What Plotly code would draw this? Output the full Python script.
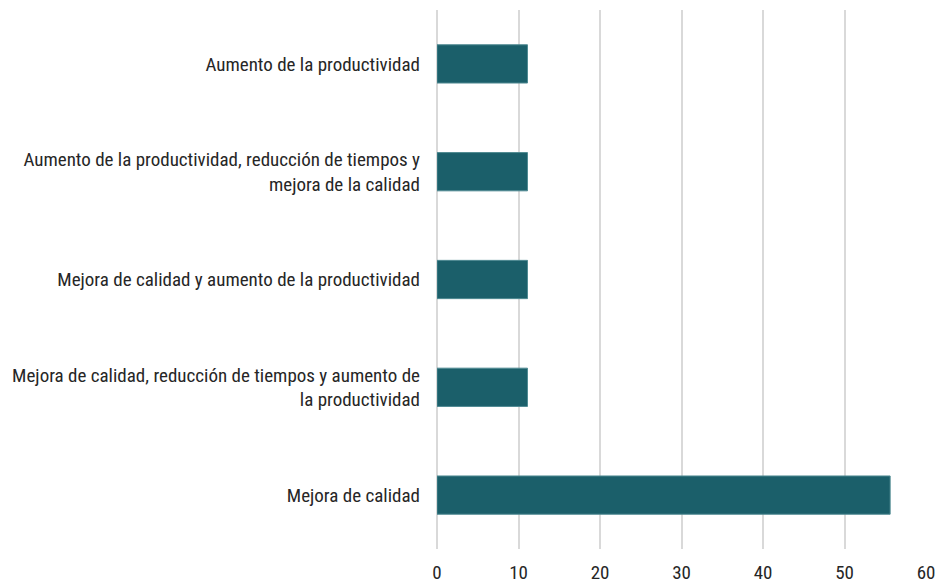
import plotly.graph_objects as go

categories = [
    "Mejora de calidad",
    "Mejora de calidad, reducción de tiempos y aumento de<br>la productividad",
    "Mejora de calidad y aumento de la productividad",
    "Aumento de la productividad, reducción de tiempos y<br>mejora de la calidad",
    "Aumento de la productividad",
]
values = [55.6, 11.1, 11.1, 11.1, 11.1]
tick_vals = [0, 10, 20, 30, 40, 50, 60]

fig = go.Figure(go.Bar(
    y=categories, x=values, orientation="h",
    marker=dict(color="#1b5f6a", line=dict(color="#4f8a92", width=1)),
    width=0.355,
))
font = "Roboto Condensed, DejaVu Sans Condensed, sans-serif"
fig.update_layout(
    width=940, height=586,
    margin=dict(l=437, r=14, t=10, b=37, autoexpand=False),
    plot_bgcolor="white", paper_bgcolor="white",
    font=dict(family=font, size=19, color="#262626"),
    showlegend=False,
)
fig.update_xaxes(range=[0, 60], tickvals=tick_vals, showgrid=True, gridcolor="#d9d9d9",
                 gridwidth=2, zeroline=True, zerolinecolor="#d9d9d9", zerolinewidth=2,
                 showline=False, ticks="", tickfont=dict(size=19), automargin=False,
                 ticklabelstandoff=10)
fig.update_yaxes(showgrid=False, showline=False, ticks="", ticklabelstandoff=16,
                 range=[-0.5, 4.5], automargin=False)
fig.write_html("out.html", config={"displayModeBar": False},
               post_script="document.body.style.margin='0';")
